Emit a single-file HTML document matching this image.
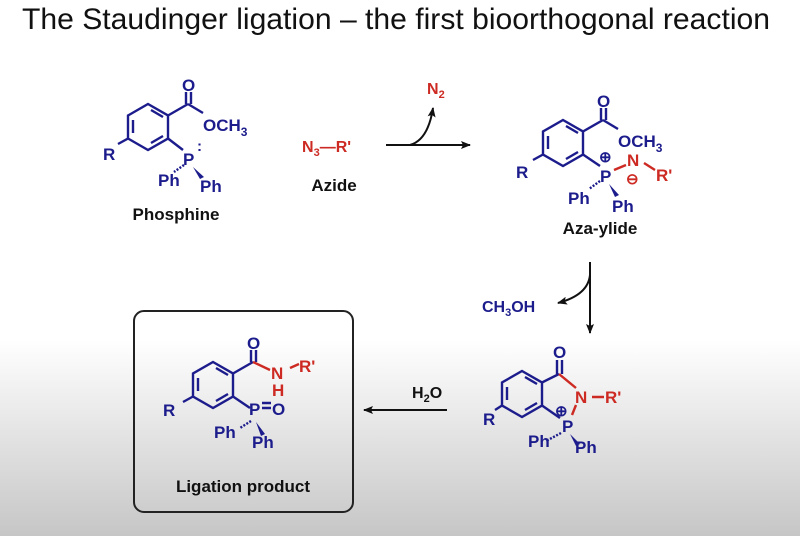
<!DOCTYPE html>
<html><head><meta charset="utf-8"><style>
html,body{margin:0;padding:0}
body{width:800px;height:536px;overflow:hidden;background:linear-gradient(to bottom,#fff 0px,#fff 340px,#c6c6c6 536px);font-family:"Liberation Sans",sans-serif}
svg{position:absolute;left:0;top:0}
text{font-family:"Liberation Sans",sans-serif;font-weight:bold}
.b{fill:#1c1c8c}.r{fill:#cc2a22}.k{fill:#111}
</style></head><body>
<svg width="800" height="536" viewBox="0 0 800 536">
<defs><marker id="ah" markerWidth="10" markerHeight="8" refX="9" refY="4" orient="auto" markerUnits="userSpaceOnUse"><path d="M0,0 L10,4 L0,8 L2,4Z" fill="#111"/></marker></defs>
<text x="22" y="29" font-size="30" style="font-weight:normal" fill="#111" textLength="748" lengthAdjust="spacingAndGlyphs">The Staudinger ligation – the first bioorthogonal reaction</text>
<rect x="134" y="311" width="219" height="201" rx="10" fill="none" stroke="#222" stroke-width="2"/>

<!-- Molecule 1 -->
<g stroke="#1c1c8c" stroke-width="2.4" fill="none">
<path d="M148,104 L168,115.5 L168,138.5 L148,150 L128,138.5 L128,115.5Z"/>
<path d="M151,110 L163,117 M163,136 L151,143 M133,133 L133,120"/>
<path d="M128,138.5 L118,144 M168,115.5 L188,104 M186,104 L186,92 M191,104 L191,92 M188,104 L203,113 M168,138.5 L183,150"/>
<path d="M184,165 L174,172" stroke-dasharray="2,1.5"/>
</g>
<path d="M193,167 L204,177 L200,179Z" fill="#1c1c8c"/>
<text x="103" y="160" font-size="17" class="b">R</text>
<text x="182" y="91" font-size="17" class="b">O</text>
<text x="203" y="131" font-size="17" class="b">OCH<tspan font-size="12" dy="5">3</tspan></text>
<text x="183" y="165" font-size="17" class="b">P</text>
<text x="197" y="151" font-size="15" class="b">:</text>
<text x="158" y="186" font-size="17" class="b">Ph</text>
<text x="200" y="192" font-size="17" class="b">Ph</text>
<text x="176" y="220" font-size="17" class="k" text-anchor="middle">Phosphine</text>

<text x="302" y="152" font-size="16" class="r">N<tspan font-size="11" dy="4">3</tspan><tspan dy="-4">—R'</tspan></text>
<text x="334" y="191" font-size="17" class="k" text-anchor="middle">Azide</text>
<line x1="386" y1="145" x2="470" y2="145" stroke="#111" stroke-width="2" marker-end="url(#ah)"/>
<path d="M410,145 Q428,140 433,108" stroke="#111" stroke-width="2" fill="none" marker-end="url(#ah)"/>
<text x="427" y="94" font-size="16" class="r">N<tspan font-size="11" dy="4">2</tspan></text>

<!-- Aza-ylide -->
<g stroke="#1c1c8c" stroke-width="2.4" fill="none">
<path d="M563,120 L583,131.5 L583,154.5 L563,166 L543,154.5 L543,131.5Z"/>
<path d="M566,126 L578,133 M578,152 L566,159 M548,149 L548,136"/>
<path d="M543,154.5 L533,160 M583,131.5 L603,120 M601,120 L601,108 M606,120 L606,108 M603,120 L618,129 M583,154.5 L600,166"/>
<path d="M600,181 L589,189" stroke-dasharray="2,1.5"/>
</g>
<path d="M609,184 L619,195 L615,197Z" fill="#1c1c8c"/>
<path d="M614,170 L626,165 M644,163 L655,170" stroke="#cc2a22" stroke-width="2.4"/>
<text x="516" y="178" font-size="17" class="b">R</text>
<text x="597" y="107" font-size="17" class="b">O</text>
<text x="618" y="147" font-size="17" class="b">OCH<tspan font-size="12" dy="5">3</tspan></text>
<text x="600" y="182" font-size="17" class="b">P</text>
<text x="599" y="162" font-size="15" class="b">⊕</text>
<text x="627" y="166" font-size="17" class="r">N</text>
<text x="626" y="184" font-size="15" class="r">⊖</text>
<text x="656" y="181" font-size="17" class="r">R'</text>
<text x="568" y="204" font-size="17" class="b">Ph</text>
<text x="612" y="212" font-size="17" class="b">Ph</text>
<text x="600" y="234" font-size="17" class="k" text-anchor="middle">Aza-ylide</text>

<line x1="590" y1="262" x2="590" y2="333" stroke="#111" stroke-width="2" marker-end="url(#ah)"/>
<path d="M590,275 Q588,295 558,303" stroke="#111" stroke-width="2" fill="none" marker-end="url(#ah)"/>
<text x="482" y="312" font-size="16" class="b">CH<tspan font-size="11" dy="4">3</tspan><tspan dy="-4">OH</tspan></text>

<!-- bottom right -->
<g stroke="#1c1c8c" stroke-width="2.4" fill="none">
<path d="M522,371 L542,382.5 L542,405.5 L522,417 L502,405.5 L502,382.5Z"/>
<path d="M525,377 L537,384 M537,403 L525,410 M507,400 L507,387"/>
<path d="M502,405.5 L495,410 M542,382.5 L559,374 M557,374 L557,360 M562,374 L562,360 M542,405.5 L560,418"/>
<path d="M561,433 L548,440" stroke-dasharray="2,1.5"/>
</g>
<path d="M570,434 L580,444 L576,446Z" fill="#1c1c8c"/>
<path d="M559,374 L576,388 M592,397 L604,397 M576,405 L572,415" stroke="#cc2a22" stroke-width="2.4"/>
<text x="483" y="425" font-size="17" class="b">R</text>
<text x="553" y="358" font-size="17" class="b">O</text>
<text x="575" y="403" font-size="17" class="r">N</text>
<text x="605" y="403" font-size="17" class="r">R'</text>
<text x="562" y="432" font-size="17" class="b">P</text>
<text x="555" y="416" font-size="15" class="b">⊕</text>
<text x="528" y="447" font-size="17" class="b">Ph</text>
<text x="575" y="453" font-size="17" class="b">Ph</text>

<line x1="447" y1="410" x2="364" y2="410" stroke="#111" stroke-width="2" marker-end="url(#ah)"/>
<text x="412" y="398" font-size="16" class="k">H<tspan font-size="11" dy="4">2</tspan><tspan dy="-4">O</tspan></text>

<!-- product -->
<g stroke="#1c1c8c" stroke-width="2.4" fill="none">
<path d="M213,362 L233,373.5 L233,396.5 L213,408 L193,396.5 L193,373.5Z"/>
<path d="M216,368 L228,375 M228,394 L216,401 M198,391 L198,378"/>
<path d="M193,396.5 L183,402 M233,373.5 L253,362 M251,362 L251,350 M256,362 L256,350 M233,396.5 L250,408 M262,403 L271,403 M262,408 L271,408"/>
<path d="M251,421 L240,428" stroke-dasharray="2,1.5"/>
</g>
<path d="M256,422 L265,434 L261,436Z" fill="#1c1c8c"/>
<path d="M253,362 L270,370 M290,368 L299,364" stroke="#cc2a22" stroke-width="2.4"/>
<text x="163" y="416" font-size="17" class="b">R</text>
<text x="247" y="349" font-size="17" class="b">O</text>
<text x="271" y="379" font-size="17" class="r">N</text>
<text x="272" y="396" font-size="17" class="r">H</text>
<text x="299" y="372" font-size="17" class="r">R'</text>
<text x="249" y="415" font-size="17" class="b">P</text>
<text x="272" y="415" font-size="17" class="b">O</text>
<text x="214" y="438" font-size="17" class="b">Ph</text>
<text x="252" y="448" font-size="17" class="b">Ph</text>
<text x="243" y="492" font-size="17" class="k" text-anchor="middle">Ligation product</text>
</svg>
</body></html>
